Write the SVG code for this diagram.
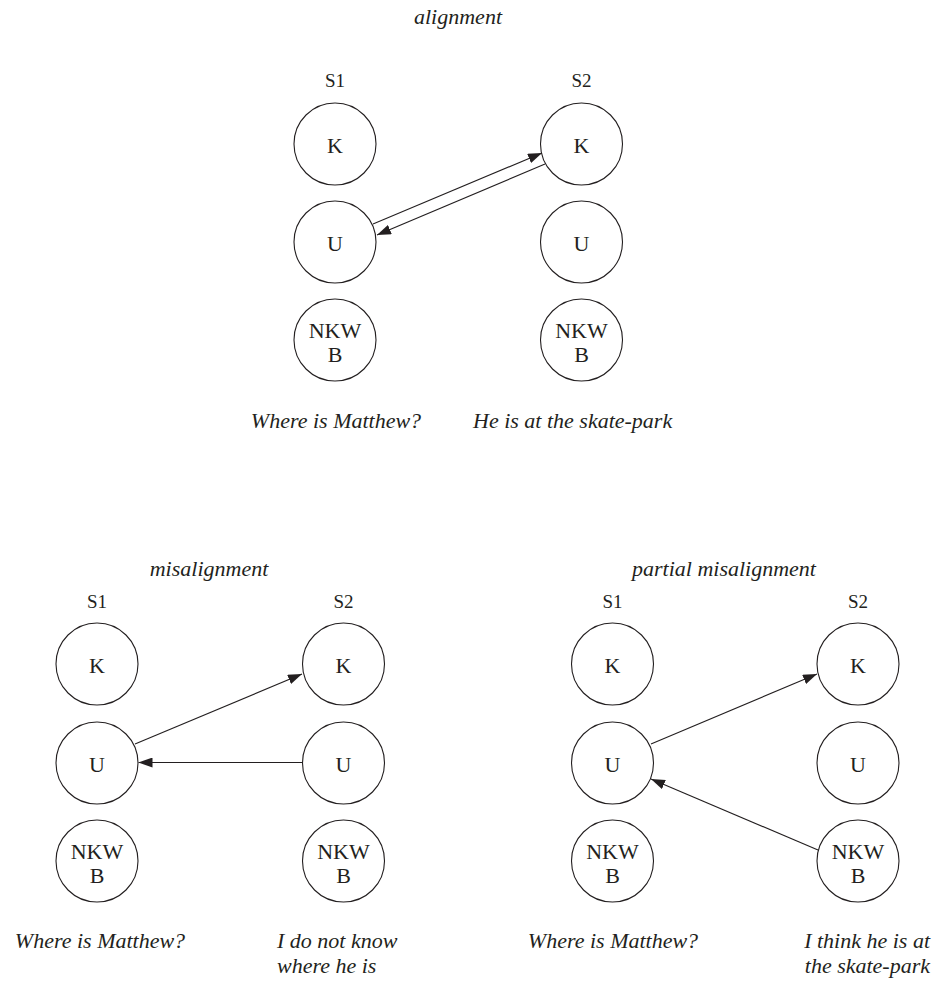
<svg xmlns="http://www.w3.org/2000/svg" width="932" height="984" viewBox="0 0 932 984">
<style>
  .bg { fill: #ffffff; }
  .node circle { fill: none; stroke: #231f20; stroke-width: 1.1; }
  .lbl { font-family: "Liberation Serif", "Times New Roman", serif; font-size: 22px; fill: #231f20; text-anchor: middle; }
  .spk { font-family: "Liberation Serif", "Times New Roman", serif; font-size: 19px; fill: #231f20; text-anchor: middle; }
  .it { font-family: "Liberation Serif", "Times New Roman", serif; font-style: italic; font-size: 22px; fill: #231f20; }
  .mid { text-anchor: middle; }
  .end { text-anchor: end; }
  .conn line { stroke: #231f20; stroke-width: 1.1; marker-end: url(#ah); }
</style>
<defs>
  <marker id="ah" viewBox="0 0 14 10" refX="14" refY="5" markerWidth="14" markerHeight="10" markerUnits="userSpaceOnUse" orient="auto">
    <path d="M0,0 L14,5 L0,10 z" fill="#231f20"/>
  </marker>
</defs>
<rect class="bg" x="0" y="0" width="932" height="984"/>

<!-- Top: alignment -->
<text class="it mid" x="458" y="24">alignment</text>
<text class="spk" x="335" y="87">S1</text>
<text class="spk" x="581.5" y="87">S2</text>
<g id="a-s1-k" class="node"><circle cx="335" cy="144" r="41"/><text class="lbl" x="335" y="153">K</text></g>
<g id="a-s1-u" class="node"><circle cx="335" cy="242" r="41"/><text class="lbl" x="335" y="251">U</text></g>
<g id="a-s1-n" class="node"><circle cx="335" cy="340" r="41"/><text class="lbl" x="335" y="338">NKW</text><text class="lbl" x="335" y="362">B</text></g>
<g id="a-s2-k" class="node"><circle cx="581.5" cy="144" r="41"/><text class="lbl" x="581.5" y="153">K</text></g>
<g id="a-s2-u" class="node"><circle cx="581.5" cy="242" r="41"/><text class="lbl" x="581.5" y="251">U</text></g>
<g id="a-s2-n" class="node"><circle cx="581.5" cy="340" r="41"/><text class="lbl" x="581.5" y="338">NKW</text><text class="lbl" x="581.5" y="362">B</text></g>
<text class="it mid" x="336" y="428">Where is Matthew?</text>
<text class="it" x="473" y="428">He is at the skate-park</text>

<!-- Bottom left: misalignment -->
<text class="it mid" x="209" y="576">misalignment</text>
<text class="spk" x="97" y="608">S1</text>
<text class="spk" x="343.5" y="608">S2</text>
<g id="m-s1-k" class="node"><circle cx="97" cy="664" r="41"/><text class="lbl" x="97" y="673">K</text></g>
<g id="m-s1-u" class="node"><circle cx="97" cy="763" r="41"/><text class="lbl" x="97" y="772">U</text></g>
<g id="m-s1-n" class="node"><circle cx="97" cy="861" r="41"/><text class="lbl" x="97" y="859">NKW</text><text class="lbl" x="97" y="883">B</text></g>
<g id="m-s2-k" class="node"><circle cx="343.5" cy="664" r="41"/><text class="lbl" x="343.5" y="673">K</text></g>
<g id="m-s2-u" class="node"><circle cx="343.5" cy="763" r="41"/><text class="lbl" x="343.5" y="772">U</text></g>
<g id="m-s2-n" class="node"><circle cx="343.5" cy="861" r="41"/><text class="lbl" x="343.5" y="859">NKW</text><text class="lbl" x="343.5" y="883">B</text></g>
<text class="it mid" x="100" y="948">Where is Matthew?</text>
<text class="it" x="277" y="948">I do not know</text>
<text class="it" x="277" y="973">where he is</text>

<!-- Bottom right: partial misalignment -->
<text class="it mid" x="724" y="576">partial misalignment</text>
<text class="spk" x="612.5" y="608">S1</text>
<text class="spk" x="858" y="608">S2</text>
<g id="p-s1-k" class="node"><circle cx="612.5" cy="664" r="41"/><text class="lbl" x="612.5" y="673">K</text></g>
<g id="p-s1-u" class="node"><circle cx="612.5" cy="763" r="41"/><text class="lbl" x="612.5" y="772">U</text></g>
<g id="p-s1-n" class="node"><circle cx="612.5" cy="861" r="41"/><text class="lbl" x="612.5" y="859">NKW</text><text class="lbl" x="612.5" y="883">B</text></g>
<g id="p-s2-k" class="node"><circle cx="858" cy="664" r="41"/><text class="lbl" x="858" y="673">K</text></g>
<g id="p-s2-u" class="node"><circle cx="858" cy="763" r="41"/><text class="lbl" x="858" y="772">U</text></g>
<g id="p-s2-n" class="node"><circle cx="858" cy="861" r="41"/><text class="lbl" x="858" y="859">NKW</text><text class="lbl" x="858" y="883">B</text></g>
<text class="it mid" x="613" y="948">Where is Matthew?</text>
<text class="it end" x="930" y="948">I think he is at</text>
<text class="it end" x="930" y="973">the skate-park</text>

<g id="connectors" class="conn">
  <line x1="373" y1="224" x2="542" y2="153"/>
  <line x1="545" y1="164" x2="377" y2="235"/>
  <line x1="135" y1="744" x2="302" y2="674"/>
  <line x1="302" y1="762.5" x2="138.5" y2="762.5"/>
  <line x1="651" y1="744" x2="817" y2="674"/>
  <line x1="818" y1="850" x2="651" y2="779"/>
</g>
</svg>
